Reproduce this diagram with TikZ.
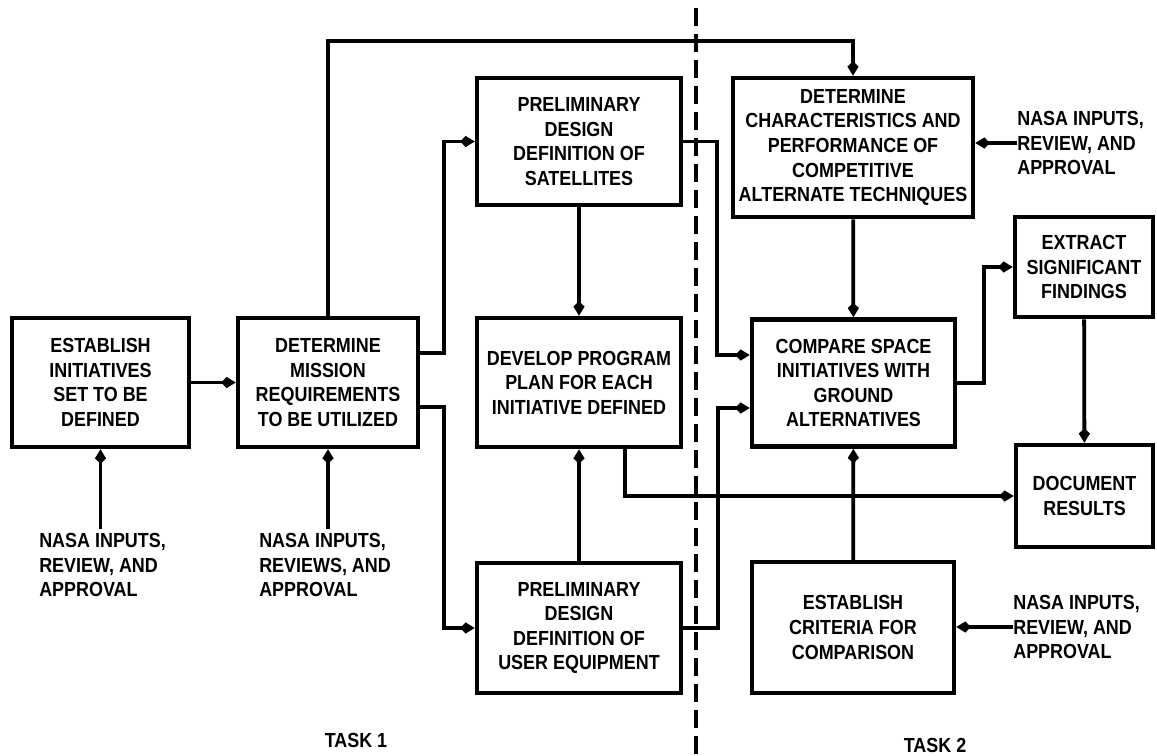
\documentclass[tikz,border=0pt]{standalone}
\usepackage{fontspec}
\setmainfont{Liberation Sans}[FakeStretch=0.88]
\usetikzlibrary{arrows.meta,positioning,calc}

\tikzset{
  blk/.style={draw, line width=3.2pt, align=center, inner sep=2pt,
    font=\bfseries\fontsize{14.5}{17.5}\selectfont},
  sz/.style 2 args={minimum width=#1*0.25mm, minimum height=#2*0.25mm},
  flow/.style={->, line width=2.7pt},
  note/.style={align=left, inner sep=0pt, font=\bfseries\fontsize{14.5}{17.5}\selectfont},
}

\begin{document}
\begin{tikzpicture}[x=0.25mm,y=-0.25mm,>={Kite[length=3.6mm,width=2.8mm,inset=1.3mm]}]
    \useasboundingbox (0,0) rectangle (1157,755);
    \node[blk,sz={177}{129}] (init) at (100.5,382.5) {ESTABLISH\\INITIATIVES\\SET TO BE\\DEFINED};
    \node[blk,sz={180}{129}] (mission) at (328,382.5) {DETERMINE\\MISSION\\REQUIREMENTS\\TO BE UTILIZED};
    \node[blk,sz={204}{127}] (sat) at (579,141.5) {PRELIMINARY\\DESIGN\\DEFINITION OF\\SATELLITES};
    \node[blk,sz={204}{129}] (plan) at (579,382.5) {DEVELOP PROGRAM\\PLAN FOR EACH\\INITIATIVE DEFINED};
    \node[blk,sz={204}{130}] (user) at (579,628) {PRELIMINARY\\DESIGN\\DEFINITION OF\\USER EQUIPMENT};
    \node[blk,sz={240}{139}] (charac) at (853,147.5) {DETERMINE\\CHARACTERISTICS AND\\PERFORMANCE OF\\COMPETITIVE\\ALTERNATE TECHNIQUES};
    \node[blk,sz={203}{127}] (compare) at (853.5,383) {COMPARE SPACE\\INITIATIVES WITH\\GROUND\\ALTERNATIVES};
    \node[blk,sz={138}{100}] (extract) at (1084,267) {EXTRACT\\SIGNIFICANT\\FINDINGS};
    \node[blk,sz={137}{102}] (document) at (1084.5,496) {DOCUMENT\\RESULTS};
    \node[blk,sz={202}{131}] (criteria) at (853,627.5) {ESTABLISH\\CRITERIA FOR\\COMPARISON};

    \node[note,anchor=north west] (nasaA) at (39,533) {NASA INPUTS,\\REVIEW, AND\\APPROVAL};
    \node[note,anchor=north west] (nasaB) at (259,533) {NASA INPUTS,\\REVIEWS, AND\\APPROVAL};
    \node[note,anchor=west] (nasaC) at (1017,143) {NASA INPUTS,\\REVIEW, AND\\APPROVAL};
    \node[note,anchor=west] (nasaD) at (1013,627) {NASA INPUTS,\\REVIEW, AND\\APPROVAL};
    \node[note] (task1) at (356,740) {TASK 1};
    \node[note] (task2) at (935,745) {TASK 2};

    \draw[line width=2.6pt, dash pattern=on 4.5mm off 2mm] (696,8) -- (696,755);

    \draw[flow] (init) -- (mission);
    \draw[flow] (mission.north) -- (mission.north |- 0,41) -| (charac.north);
    \draw[flow] (mission.east |- 0,353) -- ++(24,0) |- (sat.west);
    \draw[flow] (mission.east |- 0,407) -- ++(24,0) |- (user.west);
    \draw[flow] (sat) -- (plan);
    \draw[flow] (user) -- (plan);
    \draw[flow] (sat.east) -- ++(34,0) |- (compare.west |- 0,355);
    \draw[flow] (user.east) -- ++(35,0) |- (compare.west |- 0,408);
    \draw[flow] (charac) -- (compare);
    \draw[flow] (criteria) -- (compare);
    \draw[flow] (plan.south -| 625,0) |- (document.west);
    \draw[flow] (compare.east) -- ++(27,0) |- (extract.west);
    \draw[flow] (extract) -- (document);
    \draw[flow] (nasaA.north -| init.south) ++(0,-4) -- (init.south);
    \draw[flow] (nasaB.north -| mission.south) ++(0,-4) -- (mission.south);
    \draw[flow] (nasaC.west) -- (charac.east |- nasaC.west);
    \draw[flow] (nasaD.west) -- (criteria.east |- nasaD.west);
  \end{tikzpicture}
\end{document}
